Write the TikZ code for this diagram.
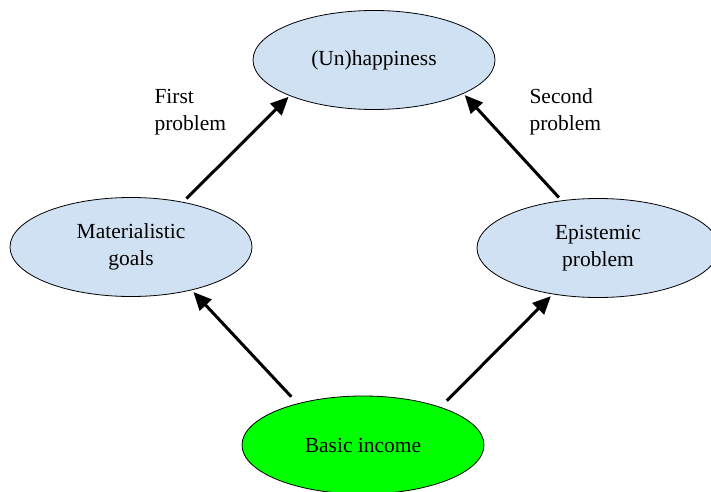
\documentclass[tikz,border=0pt]{standalone}
\usepackage{fontspec}
\setmainfont{Liberation Serif}
\usetikzlibrary{shapes.geometric,arrows.meta}
\definecolor{lblue}{HTML}{CFE1F2}
\definecolor{bgreen}{HTML}{00FF00}
\begin{document}
\begin{tikzpicture}[x=1pt,y=1pt,
  oval/.style={ellipse,draw=black,line width=0.8pt,fill=lblue,minimum width=242pt,minimum height=99pt,inner sep=0pt,align=center,font=\fontsize{21.5}{27}\selectfont},
  conn/.style={line width=3pt,-{Triangle[length=18pt,width=16pt]}},
  lbl/.style={align=left,anchor=west,font=\fontsize{21.5}{27}\selectfont}]
\useasboundingbox (0,0) rectangle (711,491);
\node[oval] (hap) at (374,431) {(Un)happiness};
\node[oval] (mat) at (131,244) {Materialistic\\goals};
\node[oval] (epi) at (598,243) {Epistemic\\problem};
\node[oval,fill=bgreen,minimum height=98pt] (bas) at (363,46) {Basic income};
\node[lbl] (l1) at (151,379) {First\\problem};
\node[lbl] (l2) at (526,379) {Second\\problem};
\draw[conn] ([shift={(5pt,3pt)}]mat.42) -- ([shift={(-1pt,-1pt)}]hap.203);
\draw[conn] ([shift={(-2pt,3pt)}]epi.128) -- ([shift={(2pt,-1pt)}]hap.339);
\draw[conn] ([shift={(-9pt,6pt)}]bas.146) -- ([shift={(1pt,-2pt)}]mat.325);
\draw[conn] ([shift={(10pt,5pt)}]bas.28) -- ([shift={(-1pt,-2pt)}]epi.225);
\end{tikzpicture}
\end{document}
